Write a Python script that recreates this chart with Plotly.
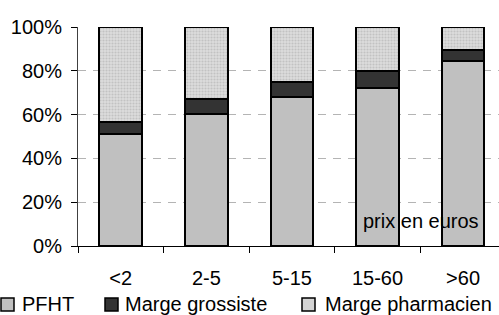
import plotly.graph_objects as go

categories = ["<2", "2-5", "5-15", "15-60", ">60"]
pfht = [51, 60.5, 68, 72, 84.5]
marge_grossiste = [5.5, 6.5, 7, 8, 5]
marge_pharmacien = [43.5, 33, 25, 20, 10.5]
y_ticks = [0, 20, 40, 60, 80, 100]
y_tick_labels = ["0%", "20%", "40%", "60%", "80%", "100%"]
series_names = ["PFHT", "Marge grossiste", "Marge pharmacien"]
series_colors = ["#c0c0c0", "#333333", "#d4d4d4"]

FONT = "Liberation Sans, Arial, sans-serif"
W, H = 499, 315
ML, MR, MT, MB = 78, 0, 27, 69
PW, PH = W - ML - MR, H - MT - MB

def px_x(p):
    return (p - ML) / PW

def px_y(p):
    return 1 - (p - MT) / PH

line = dict(color="#000000", width=2)

fig = go.Figure()
fig.add_trace(go.Bar(name=series_names[0], x=categories, y=pfht,
                     marker=dict(color=series_colors[0], line=line)))
fig.add_trace(go.Bar(name=series_names[1], x=categories, y=marge_grossiste,
                     marker=dict(color=series_colors[1], line=line)))
fig.add_trace(go.Bar(name=series_names[2], x=categories, y=marge_pharmacien,
                     marker=dict(color=series_colors[2], line=line,
                                 pattern=dict(shape=".", bgcolor="#dcdcdc",
                                              fgcolor="#a8a8a8", size=3,
                                              solidity=0.4))))

# manual legend (swatch + label) along the bottom
legend_swatch_left = [1, 105, 302]
legend_text_left = [20, 123, 323]
shapes = []
annotations = []
for name, col, sx, tx in zip(series_names, series_colors, legend_swatch_left, legend_text_left):
    shapes.append(dict(type="rect", xref="paper", yref="paper",
                       x0=px_x(sx), x1=px_x(sx + 13), y0=px_y(311), y1=px_y(298),
                       fillcolor=col, line=dict(color="#000000", width=1.5)))
    annotations.append(dict(text=name, xref="paper", yref="paper",
                            x=px_x(tx), y=px_y(304), xanchor="left", yanchor="middle",
                            showarrow=False, font=dict(size=20)))

annotations.append(dict(text="prix en euros", xref="x", yref="y", x=3.51, y=11.4,
                        showarrow=False, xanchor="center", yanchor="middle",
                        font=dict(size=20)))

fig.update_layout(
    barmode="stack",
    bargap=0.5,
    width=W, height=H,
    margin=dict(l=ML, r=MR, t=MT, b=MB),
    paper_bgcolor="white", plot_bgcolor="white",
    font=dict(family=FONT, size=20, color="#000000"),
    showlegend=False,
    shapes=shapes,
    annotations=annotations,
)
fig.update_xaxes(range=[-0.5, 4.42], showline=True, linecolor="#000000", linewidth=1,
                 ticks="outside", tickson="boundaries", ticklen=6, tickcolor="#000000",
                 showgrid=False, ticklabelstandoff=14, automargin=False)
fig.update_yaxes(range=[0, 100], tickvals=y_ticks, ticktext=y_tick_labels,
                 showline=True, linecolor="#404040", linewidth=1,
                 ticks="outside", ticklen=6, tickcolor="#000000",
                 showgrid=True, gridcolor="#b4b4b4", griddash="8px,7px", gridwidth=1,
                 zeroline=False, ticklabelstandoff=5, automargin=False)

fig.write_html("out.html", config={"displayModeBar": False},
               post_script="document.body.style.margin='0px';document.body.style.overflow='hidden';")
